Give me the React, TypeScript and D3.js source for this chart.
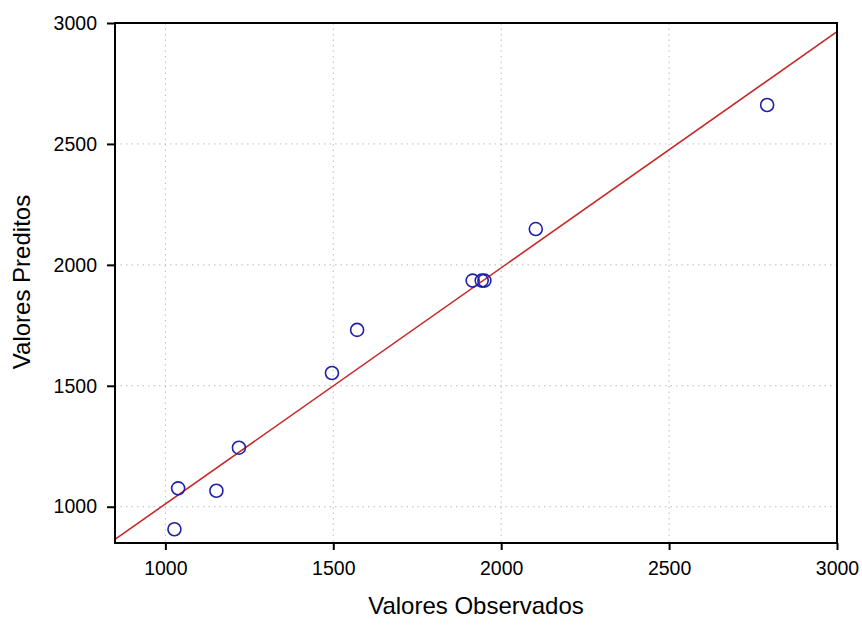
import React, { useRef, useEffect } from "react";
import * as d3 from "d3";

// observed vs predicted values
const observed = [1027, 1038, 1152, 1219, 1496, 1571, 1915, 1942, 1950, 2103, 2792];
const predicted = [907, 1076, 1066, 1244, 1553, 1731, 1935, 1935, 1935, 2148, 2661];
const xTicks = [1000, 1500, 2000, 2500, 3000];
const yTicks = [1000, 1500, 2000, 2500, 3000];
// fitted line end points (x range of the axis)
const fitX = [850, 3000];
const fitY = [865, 2964];

export default function App() {
  const ref = useRef<SVGSVGElement | null>(null);
  const width = 862;
  const height = 625;

  useEffect(() => {
    const margin = { top: 23, right: 25, bottom: 82, left: 115 };
    const w = width - margin.left - margin.right;
    const h = height - margin.top - margin.bottom;

    d3.select(ref.current).selectAll("*").remove();
    const svg = d3
      .select(ref.current)
      .append("g")
      .attr("transform", `translate(${margin.left},${margin.top})`);

    const x = d3.scaleLinear().domain([850, 3000]).range([0, w]);
    const y = d3.scaleLinear().domain([850, 3000]).range([h, 0]);

    // grid
    svg
      .append("g")
      .selectAll("line.gx")
      .data(xTicks.filter((d) => d < 3000))
      .enter()
      .append("line")
      .attr("x1", (d) => x(d))
      .attr("x2", (d) => x(d))
      .attr("y1", 0)
      .attr("y2", h)
      .attr("stroke", "#bbb")
      .attr("stroke-width", 1)
      .attr("stroke-dasharray", "1.5,4");
    svg
      .append("g")
      .selectAll("line.gy")
      .data(yTicks.filter((d) => d < 3000))
      .enter()
      .append("line")
      .attr("x1", 0)
      .attr("x2", w)
      .attr("y1", (d) => y(d))
      .attr("y2", (d) => y(d))
      .attr("stroke", "#bbb")
      .attr("stroke-width", 1)
      .attr("stroke-dasharray", "1.5,4");

    // fitted line
    const line = d3
      .line<number>()
      .x((_, i) => x(fitX[i]))
      .y((d) => y(d));
    svg
      .append("path")
      .datum(fitY)
      .attr("fill", "none")
      .attr("stroke", "#c62828")
      .attr("stroke-width", 1.6)
      .attr("d", line);

    // points
    svg
      .append("g")
      .selectAll("circle")
      .data(observed)
      .enter()
      .append("circle")
      .attr("cx", (d) => x(d))
      .attr("cy", (_, i) => y(predicted[i]))
      .attr("r", 6.5)
      .attr("fill", "none")
      .attr("stroke", "#1f1fa8")
      .attr("stroke-width", 1.6);

    // frame
    svg
      .append("rect")
      .attr("x", 0)
      .attr("y", 0)
      .attr("width", w)
      .attr("height", h)
      .attr("fill", "none")
      .attr("stroke", "#000")
      .attr("stroke-width", 2);

    // axes
    const font = "'Liberation Sans', Arial, sans-serif";
    const gx = svg
      .append("g")
      .attr("transform", `translate(0,${h})`)
      .call(d3.axisBottom(x).tickValues(xTicks).tickSize(7).tickPadding(11).tickFormat(d3.format("d")) as any);
    gx.select(".domain").remove();
    gx.selectAll("line").attr("stroke-width", 2);
    gx.selectAll("text").style("font-size", "19.5px").style("font-family", font).attr("fill", "#000");

    const gy = svg
      .append("g")
      .call(d3.axisLeft(y).tickValues(yTicks).tickSize(8).tickPadding(10).tickFormat(d3.format("d")) as any);
    gy.select(".domain").remove();
    gy.selectAll("line").attr("stroke-width", 2);
    gy.selectAll("text").style("font-size", "19.5px").style("font-family", font).attr("fill", "#000");

    // axis titles
    svg
      .append("text")
      .attr("text-anchor", "middle")
      .attr("x", w / 2)
      .attr("y", h + 71)
      .attr("fill", "#000")
      .style("font-size", "24px")
      .style("font-family", font)
      .text("Valores Observados");
    svg
      .append("text")
      .attr("text-anchor", "middle")
      .attr("transform", "rotate(-90)")
      .attr("x", -h / 2 + 1)
      .attr("y", -85.5)
      .attr("fill", "#000")
      .style("font-size", "24px")
      .style("font-family", font)
      .text("Valores Preditos");
  }, []);

  return (
    <svg
      ref={ref}
      width={width}
      height={height}
      style={{ position: "absolute", left: 0, top: 0, background: "#fff" }}
    />
  );
}
